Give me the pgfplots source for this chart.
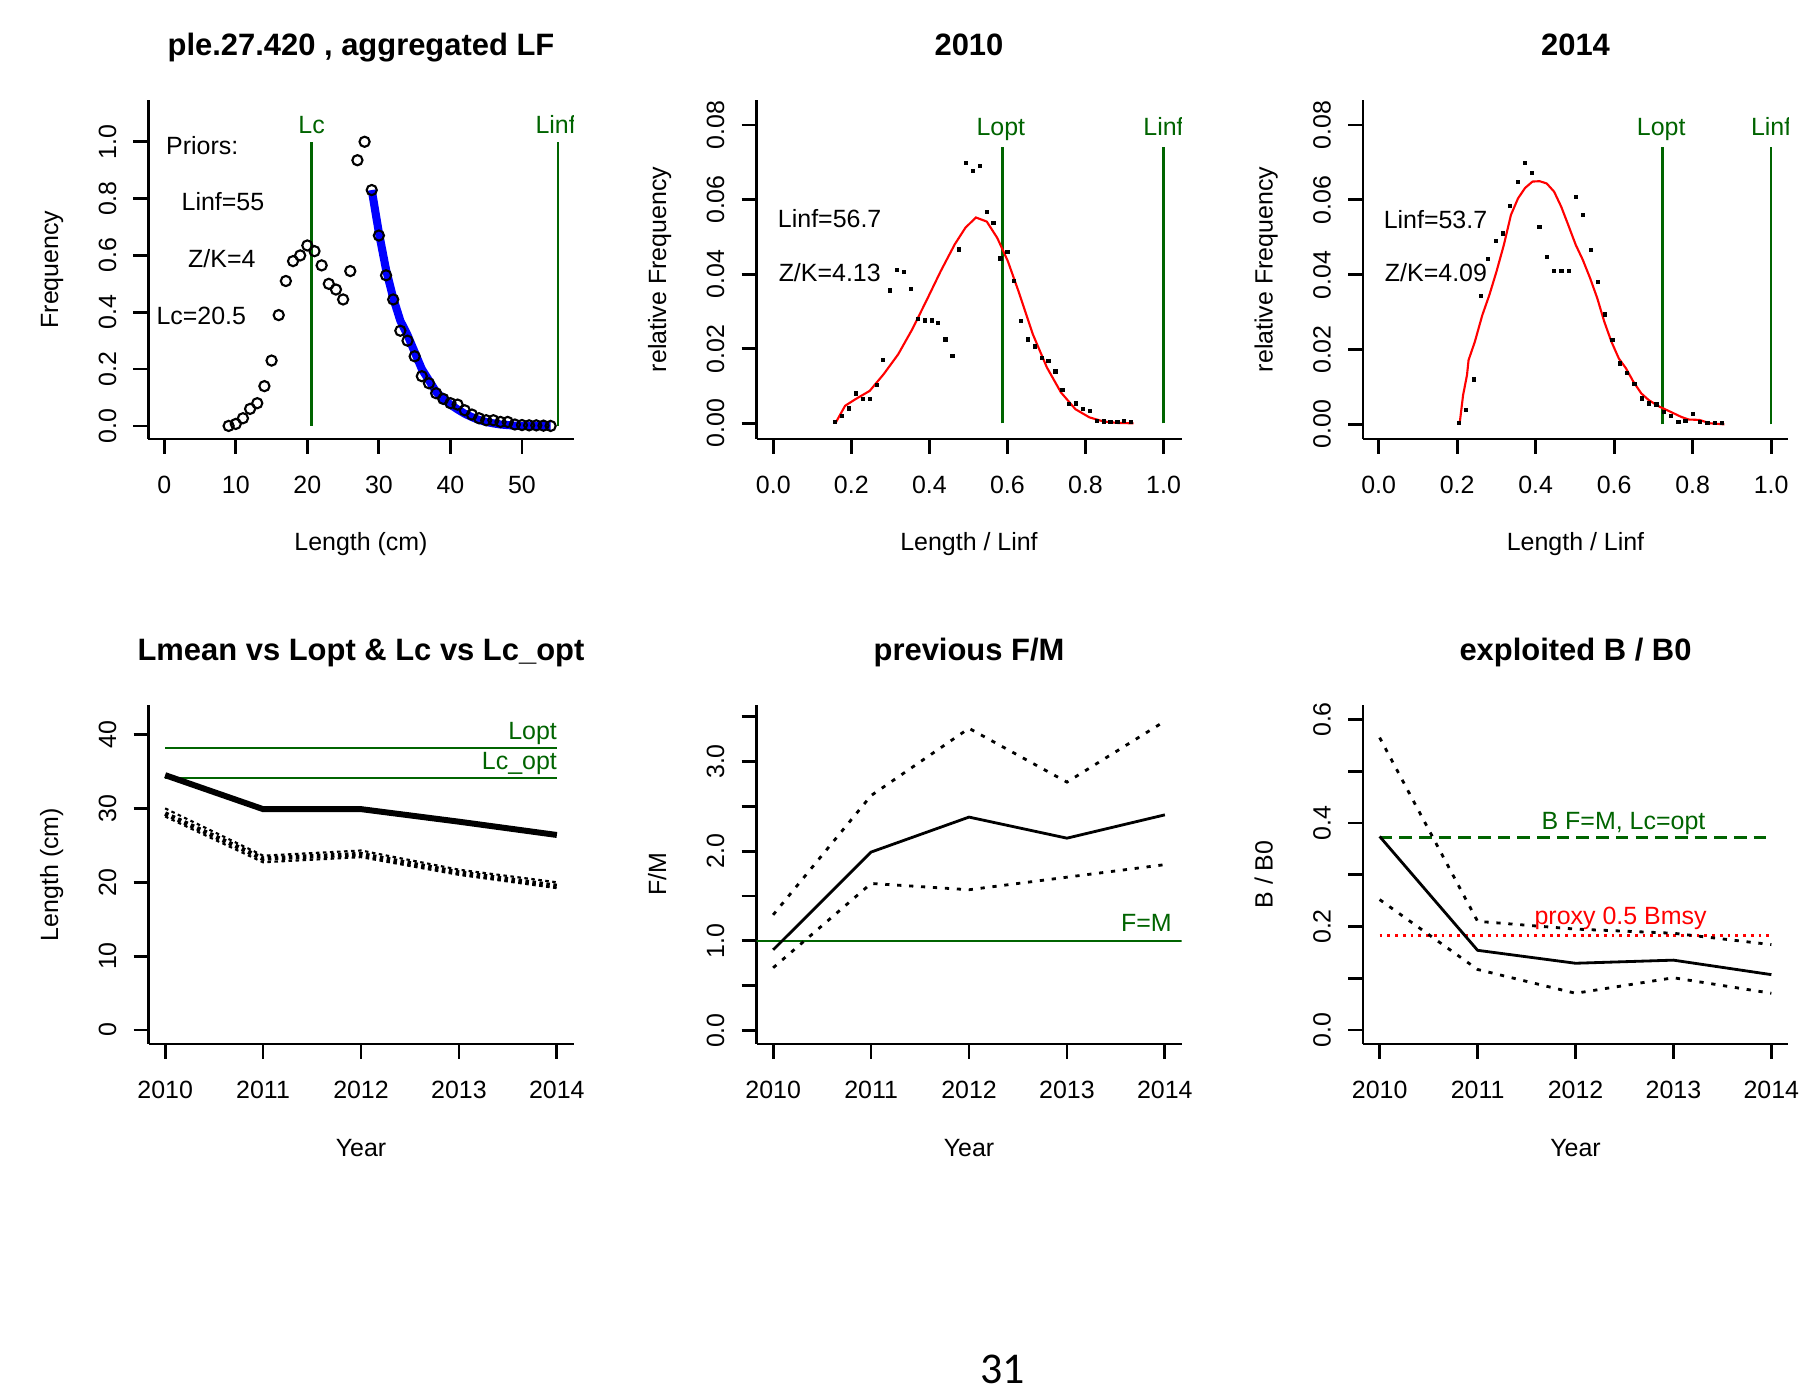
\documentclass[border=0pt]{standalone}
\usepackage{pgfplots}
\pgfplotsset{compat=1.18}
\usepackage{fontspec}
\setmainfont{Liberation Sans}
\newfontfamily\pagefont{Carlito}
\definecolor{rgreen}{HTML}{006400}

\pgfplotsset{
  every axis title shift=0pt,
  rbase/.style={
    scale only axis, width=4.25cm, height=3.39cm, anchor=south west,
    axis x line*=bottom, axis y line*=left,
    axis line style={line width=0.8pt, black},
    tick align=outside, major tick length=0.15cm,
    tick style={line width=0.8pt, black},
    minor tick num=0, scaled ticks=false,
    xticklabel style={anchor=base, yshift=-0.40cm},
    yticklabel style={xshift=-0.175cm, rotate=90, anchor=base},
    title style={at={(axis description cs:0.5,1.1298)}, anchor=base,
                 font=\bfseries\fontsize{8.8pt}{10pt}\selectfont},
    xlabel style={at={(axis description cs:0.5,-0.3304)}, anchor=base},
    ylabel style={at={(axis description cs:-0.2129,0.5)}, anchor=base},
  },
  years/.style={
    xmin=2009.83, xmax=2014.17,
    xtick={2010,2011,2012,2013,2014},
    xticklabels={2010,2011,2012,2013,2014},
    xlabel={Year},
  },
  bound/.style={black, line width=0.8pt, dash pattern=on 1.2pt off 2.2pt},
}
\tikzset{txt/.style={inner sep=0pt, outer sep=0pt}}

\begin{document}
\fontsize{7.1pt}{8.5pt}\selectfont
\begin{tikzpicture}
\path[use as bounding box, fill=white] (0,0) rectangle (18.18cm,13.91cm);

% top left: aggregated length frequency
\begin{axis}[rbase, at={(1.485cm,9.52cm)},
  xmin=-2.2, xmax=57.2, ymin=-0.046, ymax=1.147,
  xtick={0,10,20,30,40,50}, xticklabels={0,10,20,30,40,50},
  ytick={0,0.2,0.4,0.6,0.8,1.0}, yticklabels={0.0,0.2,0.4,0.6,0.8,1.0},
  title={ple.27.420 , aggregated LF}, xlabel={Length (cm)}, ylabel={Frequency}]
\addplot[rgreen, line width=0.7pt] coordinates {(20.6,0) (20.6,1)};
\addplot[rgreen, line width=0.7pt] coordinates {(55,0) (55,1)};
\addplot[only marks, mark=o, mark size=1.45pt, mark options={line width=0.6pt, black}]
  coordinates {
  (9,0.000) (10,0.007) (11,0.027) (12,0.060) (13,0.080) (14,0.140) (15,0.230)
  (16,0.390) (17,0.510) (18,0.580) (19,0.600) (20,0.635) (21,0.615) (22,0.565)
  (23,0.500) (24,0.480) (25,0.445) (26,0.545) (27,0.935) (28,1.000) (29,0.830)
  (30,0.670) (31,0.530) (32,0.445) (33,0.335) (34,0.300) (35,0.245) (36,0.175)
  (37,0.150) (38,0.115) (39,0.095) (40,0.080) (41,0.075) (42,0.055) (43,0.040)
  (44,0.027) (45,0.020) (46,0.020) (47,0.014) (48,0.014) (49,0.005) (50,0.003)
  (51,0.002) (52,0.002) (53,0.001) (54,0.000)};
\addplot[blue, line width=2.3pt] coordinates {
  (29,0.83) (30,0.68) (31,0.55) (32,0.45) (33,0.37) (34,0.32) (35,0.26)
  (36,0.20) (37,0.16) (38,0.12) (39,0.095) (40,0.075) (41,0.058) (42,0.043)
  (43,0.031) (44,0.021) (45,0.014) (46,0.009) (47,0.005) (48,0.003) (49,0.001)
  (50,0) (51,0) (52,0) (53,0) (54,0)};
\node[txt, anchor=base west] at (axis cs:0.27,0.955) {Priors:};
\node[txt, anchor=base west] at (axis cs:2.43,0.759) {Linf=55};
\node[txt, anchor=base west] at (axis cs:3.35,0.556) {Z/K=4};
\node[txt, anchor=base west] at (axis cs:-1.08,0.356) {Lc=20.5};
\node[txt, anchor=base, text=rgreen] at (axis cs:20.6,1.03) {Lc};
\node[txt, anchor=base, text=rgreen] at (axis cs:54.7,1.03) {Linf};
\end{axis}

% top middle: 2010
\begin{axis}[rbase, at={(7.565cm,9.52cm)},
  xmin=-0.043, xmax=1.046, ymin=-0.0042, ymax=0.0867,
  xtick={0,0.2,0.4,0.6,0.8,1.0}, xticklabels={0.0,0.2,0.4,0.6,0.8,1.0},
  ytick={0,0.02,0.04,0.06,0.08}, yticklabels={0.00,0.02,0.04,0.06,0.08},
  title={2010}, xlabel={Length / Linf}, ylabel={relative Frequency}]
\addplot[rgreen, line width=0.7pt] coordinates {(0.5875,0) (0.5875,0.0742)};
\addplot[rgreen, line width=0.7pt] coordinates {(1,0) (1,0.0742)};
\addplot[only marks, mark=square*, mark size=0.4pt, black] coordinates {
  (0.159,0.0003) (0.176,0.0020) (0.194,0.0040) (0.212,0.0080) (0.229,0.0065)
  (0.247,0.0065) (0.265,0.0102) (0.282,0.0169) (0.300,0.0356) (0.317,0.0412)
  (0.335,0.0405) (0.353,0.0360) (0.370,0.0280) (0.388,0.0276) (0.406,0.0276)
  (0.423,0.0270) (0.441,0.0225) (0.459,0.0180) (0.476,0.0466) (0.494,0.0698)
  (0.511,0.0677) (0.529,0.0690) (0.547,0.0566) (0.564,0.0537) (0.582,0.0442)
  (0.600,0.0460) (0.617,0.0381) (0.635,0.0274) (0.653,0.0225) (0.670,0.0206)
  (0.688,0.0176) (0.705,0.0167) (0.723,0.0139) (0.741,0.0089) (0.758,0.0052)
  (0.776,0.0053) (0.794,0.0038) (0.811,0.0034) (0.829,0.0007) (0.847,0.0005)
  (0.864,0.0004) (0.882,0.0003) (0.899,0.0007) (0.917,0.0003)};
\addplot[red, line width=0.6pt] coordinates {
  (0.159,0) (0.184,0.0047) (0.211,0.0065) (0.247,0.0087) (0.283,0.0132)
  (0.320,0.0185) (0.356,0.0252) (0.392,0.0328) (0.429,0.0408) (0.465,0.0480)
  (0.492,0.0524) (0.519,0.0552) (0.547,0.0541) (0.574,0.0497) (0.601,0.0435)
  (0.628,0.0355) (0.665,0.0239) (0.701,0.0150) (0.737,0.0083) (0.774,0.0038)
  (0.810,0.0016) (0.846,0.0005) (0.882,0.0001) (0.923,0)};
\node[txt, anchor=base west] at (axis cs:0.012,0.0524) {Linf=56.7};
\node[txt, anchor=base west] at (axis cs:0.014,0.0381) {Z/K=4.13};
\node[txt, anchor=base, text=rgreen] at (axis cs:0.583,0.0773) {Lopt};
\node[txt, anchor=base, text=rgreen] at (axis cs:1.0,0.0773) {Linf};
\end{axis}

% top right: 2014
\begin{axis}[rbase, at={(13.63cm,9.52cm)},
  xmin=-0.04, xmax=1.043, ymin=-0.0039, ymax=0.0867,
  xtick={0,0.2,0.4,0.6,0.8,1.0}, xticklabels={0.0,0.2,0.4,0.6,0.8,1.0},
  ytick={0,0.02,0.04,0.06,0.08}, yticklabels={0.00,0.02,0.04,0.06,0.08},
  title={2014}, xlabel={Length / Linf}, ylabel={relative Frequency}]
\addplot[rgreen, line width=0.7pt] coordinates {(0.723,0) (0.723,0.0742)};
\addplot[rgreen, line width=0.7pt] coordinates {(1,0) (1,0.0742)};
\addplot[only marks, mark=square*, mark size=0.4pt, black] coordinates {
  (0.205,0.0003) (0.223,0.0038) (0.242,0.0120) (0.261,0.0343) (0.279,0.0442)
  (0.298,0.0490) (0.317,0.0510) (0.335,0.0584) (0.354,0.0647) (0.372,0.0698)
  (0.391,0.0671) (0.410,0.0528) (0.428,0.0448) (0.447,0.0410) (0.466,0.0410)
  (0.484,0.0410) (0.503,0.0608) (0.521,0.0560) (0.540,0.0466) (0.559,0.0380)
  (0.577,0.0294) (0.596,0.0225) (0.615,0.0163) (0.633,0.0138) (0.652,0.0107)
  (0.670,0.0069) (0.689,0.0056) (0.708,0.0053) (0.726,0.0034) (0.745,0.0023)
  (0.764,0.0007) (0.782,0.0009) (0.801,0.0028) (0.819,0.0007) (0.838,0.0003)
  (0.857,0.0003) (0.875,0.0003)};
\addplot[red, line width=0.6pt] coordinates {
  (0.206,0) (0.215,0.0078) (0.225,0.0132) (0.229,0.0172) (0.245,0.0221)
  (0.264,0.0292) (0.282,0.0346) (0.300,0.0408) (0.319,0.0480) (0.337,0.0560)
  (0.355,0.0604) (0.373,0.0632) (0.392,0.0649) (0.410,0.0650) (0.428,0.0644)
  (0.447,0.0622) (0.465,0.0582) (0.483,0.0533) (0.502,0.0480) (0.520,0.0440)
  (0.539,0.0390) (0.557,0.0337) (0.575,0.0274) (0.593,0.0221) (0.612,0.0176)
  (0.630,0.0150) (0.649,0.0114) (0.669,0.0083) (0.688,0.0065) (0.716,0.0047)
  (0.743,0.0034) (0.771,0.0020) (0.790,0.0013) (0.817,0.0012) (0.844,0.0003)
  (0.881,0)};
\node[txt, anchor=base west] at (axis cs:0.013,0.0524) {Linf=53.7};
\node[txt, anchor=base west] at (axis cs:0.016,0.0381) {Z/K=4.09};
\node[txt, anchor=base, text=rgreen] at (axis cs:0.72,0.0773) {Lopt};
\node[txt, anchor=base, text=rgreen] at (axis cs:1.0,0.0773) {Linf};
\end{axis}

% bottom left: Lmean vs Lopt
\begin{axis}[rbase, years, at={(1.485cm,3.47cm)},
  ymin=-1.9, ymax=44,
  ytick={0,10,20,30,40}, yticklabels={0,10,20,30,40},
  title={Lmean vs Lopt \& Lc vs Lc\_opt}, ylabel={Length (cm)}]
\addplot[rgreen, line width=0.7pt] coordinates {(2010,38.2) (2014,38.2)};
\addplot[rgreen, line width=0.7pt] coordinates {(2010,34.1) (2014,34.1)};
\addplot[black, line width=1.7pt] coordinates {
  (2010,34.5) (2011,29.9) (2012,29.9) (2013,28.2) (2014,26.4)};
\addplot[black, line width=0.6pt, dash pattern=on 1pt off 1pt] coordinates {
  (2010,30.0) (2011,23.6) (2012,24.3) (2013,21.7) (2014,20.0)};
\addplot[black, line width=0.6pt, dash pattern=on 1pt off 1pt] coordinates {
  (2010,28.9) (2011,22.7) (2012,23.4) (2013,21.0) (2014,19.2)};
\addplot[black, line width=1.3pt, dash pattern=on 1pt off 1pt] coordinates {
  (2010,29.3) (2011,23.2) (2012,23.8) (2013,21.3) (2014,19.5)};
\node[txt, anchor=base east, text=rgreen] at (axis cs:2014,39.3) {Lopt};
\node[txt, anchor=base east, text=rgreen] at (axis cs:2014,35.2) {Lc\_opt};
\end{axis}

% bottom middle: previous F/M
\begin{axis}[rbase, years, at={(7.565cm,3.47cm)},
  ymin=-0.15, ymax=3.63,
  ytick={0,0.5,1,1.5,2,2.5,3,3.5}, yticklabels={0.0,,1.0,,2.0,,3.0,},
  title={previous F/M}, ylabel={F/M}]
\addplot[rgreen, line width=0.7pt] coordinates {(2009,1) (2015,1)};
\addplot[bound] coordinates {
  (2010,1.29) (2011,2.62) (2012,3.37) (2013,2.77) (2014,3.45)};
\addplot[bound] coordinates {
  (2010,0.70) (2011,1.64) (2012,1.57) (2013,1.71) (2014,1.85)};
\addplot[black, line width=0.8pt] coordinates {
  (2010,0.90) (2011,1.99) (2012,2.38) (2013,2.145) (2014,2.405)};
\node[txt, anchor=base east, text=rgreen] at (axis cs:2014.07,1.10) {F=M};
\end{axis}

% bottom right: exploited B/B0
\begin{axis}[rbase, years, at={(13.63cm,3.47cm)},
  ymin=-0.027, ymax=0.628,
  ytick={0,0.1,0.2,0.3,0.4,0.5,0.6}, yticklabels={0.0,,0.2,,0.4,,0.6},
  title={exploited B / B0}, ylabel={B / B0}]
\addplot[rgreen, line width=0.9pt, dash pattern=on 3.6pt off 2pt]
  coordinates {(2010,0.372) (2014,0.372)};
\addplot[red, line width=0.8pt, dash pattern=on 0.8pt off 1.4pt]
  coordinates {(2010,0.182) (2014,0.182)};
\addplot[bound] coordinates {
  (2010,0.565) (2011,0.210) (2012,0.195) (2013,0.187) (2014,0.165)};
\addplot[bound] coordinates {
  (2010,0.252) (2011,0.117) (2012,0.071) (2013,0.101) (2014,0.071)};
\addplot[black, line width=0.8pt] coordinates {
  (2010,0.374) (2011,0.154) (2012,0.129) (2013,0.135) (2014,0.107)};
\node[txt, anchor=base, text=rgreen] at (axis cs:2012.49,0.388) {B F=M, Lc=opt};
\node[txt, anchor=base, text=red] at (axis cs:2012.46,0.2036) {proxy 0.5 Bmsy};
\end{axis}

\node[txt, anchor=base, font=\pagefont\fontsize{12.5pt}{15pt}\selectfont] at (10.025cm,0.077cm) {31};
\end{tikzpicture}
\end{document}
